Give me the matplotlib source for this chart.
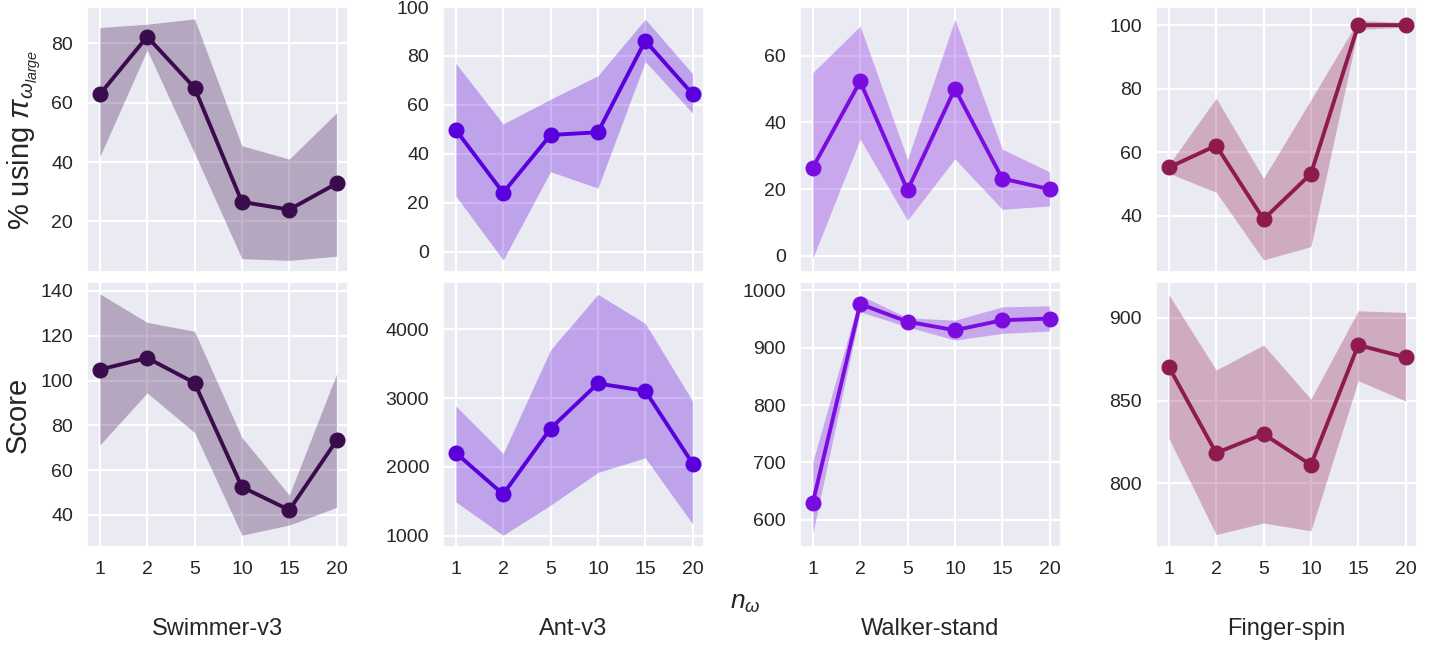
import numpy as np
import matplotlib
matplotlib.use("Agg")
import matplotlib.pyplot as plt
import seaborn as sns

sns.set_theme(style="darkgrid")
plt.rcParams['font.family'] = ['Liberation Sans', 'DejaVu Sans']
plt.rcParams['mathtext.fontset'] = 'custom'
plt.rcParams['mathtext.it'] = 'Liberation Sans:italic'
plt.rcParams['mathtext.rm'] = 'Liberation Sans'
plt.rcParams['grid.linewidth'] = 1.6

n_omega = ["1", "2", "5", "10", "15", "20"]
envs = ["Swimmer-v3", "Ant-v3", "Walker-stand", "Finger-spin"]
colors = ["#3b0c4c", "#5a00dd", "#7a0ce0", "#8e1a4e"]

# top row: % using pi_large (mean, lower, upper)
pct_mean = [
    [62.8, 82.2, 65.0, 26.6, 24.0, 32.8],
    [49.8, 24.1, 47.7, 48.8, 86.2, 64.4],
    [26.5, 52.3, 19.7, 50.1, 23.2, 20.0],
    [55.2, 62.1, 38.9, 53.2, 100.0, 100.0],
]
pct_low = [
    [41.8, 77.7, 43.0, 7.5, 6.9, 8.3],
    [22.8, -3.4, 32.7, 26.0, 77.7, 56.6],
    [-0.7, 35.0, 10.7, 29.1, 14.0, 15.0],
    [53.4, 47.4, 26.1, 30.3, 98.7, 99.3],
]
pct_high = [
    [85.3, 86.4, 88.2, 45.5, 41.0, 56.6],
    [77.0, 52.2, 62.3, 71.9, 95.0, 72.7],
    [54.9, 68.9, 28.9, 70.9, 32.0, 25.2],
    [56.0, 77.0, 51.8, 76.5, 101.5, 100.8],
]

# bottom row: score (mean, lower, upper)
score_mean = [
    [104.9, 110.1, 99.0, 52.5, 42.2, 73.3],
    [2203, 1603, 2558, 3212, 3105, 2049],
    [630, 975.7, 945, 930.1, 947.5, 950.4],
    [870.4, 818.3, 829.8, 811.1, 883.5, 876.1],
]
score_low = [
    [71.2, 94.5, 76.8, 31.0, 35.5, 43.4],
    [1491, 1007, 1443, 1919, 2131, 1170],
    [577, 962, 936, 913, 924.6, 928.7],
    [827.2, 769.0, 776.0, 771.3, 862.0, 849.7],
]
score_high = [
    [138.7, 126.0, 122.0, 74.6, 48.9, 103.0],
    [2887, 2195, 3700, 4507, 4086, 2955],
    [701, 991, 951.8, 947.5, 970.7, 972.4],
    [914.0, 868.4, 883.5, 850.9, 904.2, 903.2],
]

top_ylim = [(3, 92.2), (-8.3, 100), (-4.8, 74.6), (22.3, 105.7)]
top_yticks = [[20, 40, 60, 80], [0, 20, 40, 60, 80, 100], [0, 20, 40, 60], [40, 60, 80, 100]]
bot_ylim = [(25.7, 144), (836, 4687), (553, 1014), (761.5, 921.6)]
bot_yticks = [[40, 60, 80, 100, 120, 140], [1000, 2000, 3000, 4000],
              [600, 700, 800, 900, 1000], [800, 850, 900]]

W, H = 1431, 645
fig = plt.figure(figsize=(W / 100, H / 100), dpi=100)
lefts = [87, 443, 800, 1156]
aw = 261
x = np.arange(len(n_omega))

def draw(ax, m, lo, hi, c, ylim, yt):
    ax.fill_between(x, lo, hi, color=c, alpha=0.3, lw=0)
    ax.plot(x, m, '-o', color=c, lw=2.8, ms=10.5)
    ax.set_xlim(-0.27, 5.24)
    ax.set_ylim(*ylim)
    ax.set_yticks(yt)
    ax.set_xticks(x)
    ax.tick_params(labelsize=14, pad=4)

for i in range(4):
    axt = fig.add_axes([lefts[i] / W, 1 - 272 / H, aw / W, 265 / H])
    draw(axt, pct_mean[i], pct_low[i], pct_high[i], colors[i], top_ylim[i], top_yticks[i])
    axt.set_xticklabels([])
    axb = fig.add_axes([lefts[i] / W, 1 - 547 / H, aw / W, 265 / H])
    draw(axb, score_mean[i], score_low[i], score_high[i], colors[i], bot_ylim[i], bot_yticks[i])
    axb.set_xticklabels(n_omega)
    fig.text((lefts[i] + aw / 2) / W, 1 - 629 / H, envs[i], ha='center', va='center', fontsize=17)
    if i == 0:
        axt.set_ylabel(r'% using $\pi_{\omega_{large}}$', fontsize=21, labelpad=6)
        axb.set_ylabel('Score', fontsize=21, labelpad=6)

fig.text(745 / W, 1 - 603 / H, r'$n_\omega$', ha='center', va='center', fontsize=19)

plt.savefig('out.png', dpi=100)
